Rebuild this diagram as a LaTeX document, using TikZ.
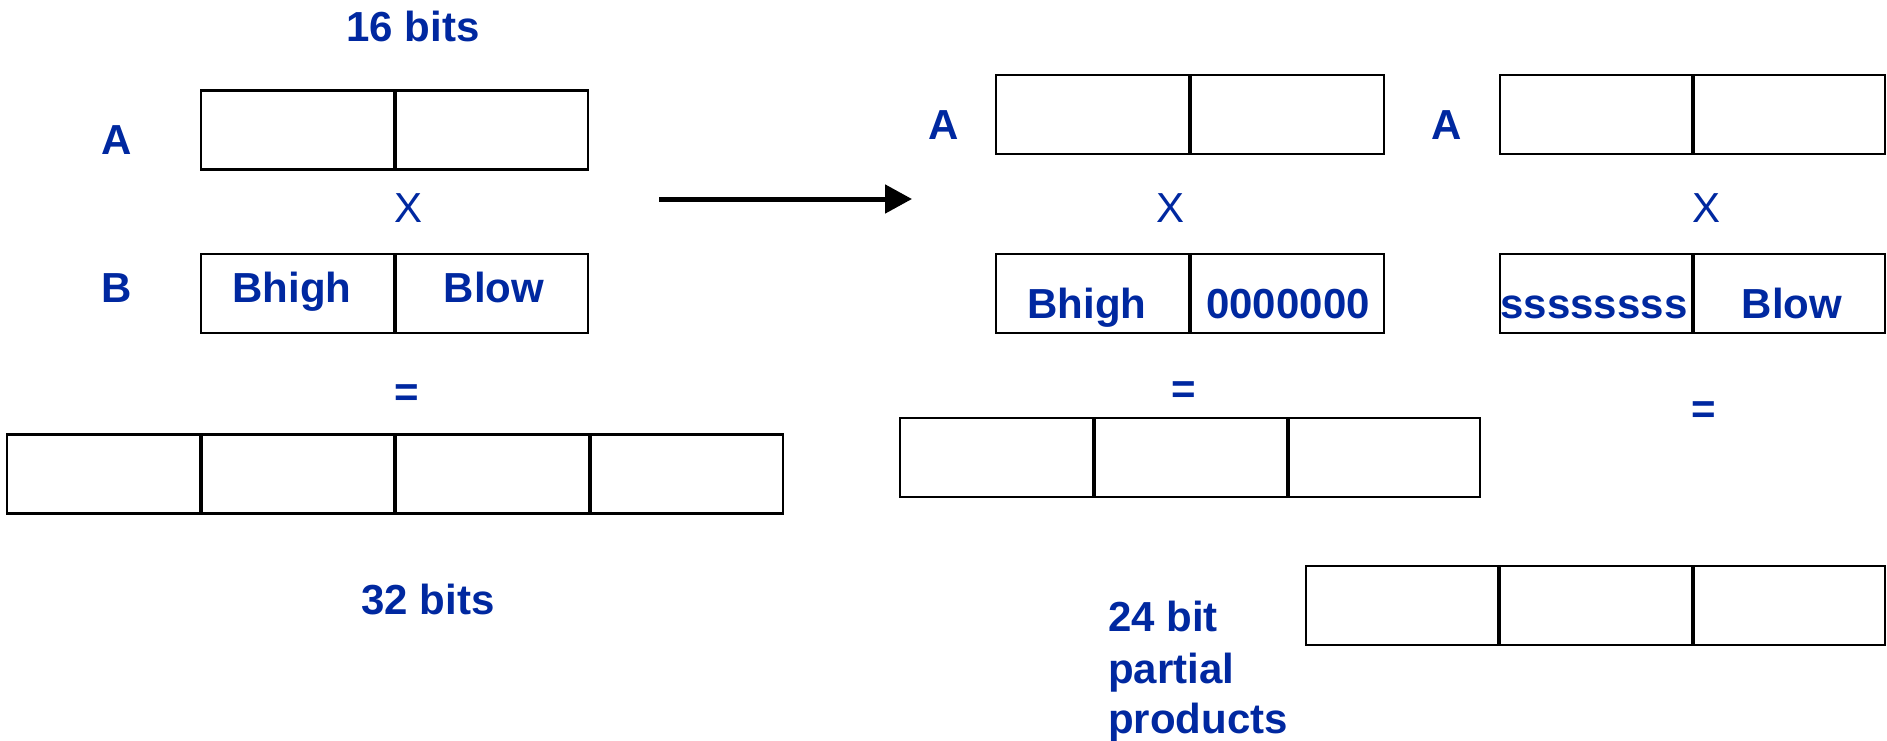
\documentclass[tikz,border=0pt]{standalone}
\usepackage{fontspec}
\setmainfont{Liberation Sans}
\usetikzlibrary{arrows.meta}
\definecolor{lblue}{RGB}{0,40,160}
\begin{document}
\begin{tikzpicture}[x=1pt,y=-1pt,
  cell/.style={draw=black, line width=2.2pt, inner sep=0pt, outer sep=0pt, minimum height=79pt},
  divider/.style={draw=black, line width=4pt},
  lbl/.style={text=lblue, inner sep=0pt, font=\fontsize{42}{50}\selectfont\bfseries},
  op/.style={text=lblue, inner sep=0pt, font=\fontsize{42}{50}\selectfont},
  eq/.style={text=lblue, inner sep=0pt, font=\fontsize{42}{50}\selectfont\bfseries}]
\useasboundingbox (0,0) rectangle (1887,740);
% ---------------- left: 16 x 16 ----------------
\node[lbl, anchor=base] (t16) at (413,41) {16 bits};
\node[lbl, anchor=base] (lA) at (117,154) {A};
\node[cell, minimum width=194pt] (la1) at (298,130) {};
\node[cell, minimum width=193pt] (la2) at (491.5,130) {};
\draw[divider] (la1.north east) -- (la1.south east);
\node[op, anchor=base] (lx) at (409,222) {X};
\node[lbl, anchor=base] (lB) at (117,302) {B};
\node[cell, minimum width=194pt] (lb1) at (298,293.5) {};
\node[cell, minimum width=193pt] (lb2) at (491.5,293.5) {};
\draw[divider] (lb1.north east) -- (lb1.south east);
\node[lbl, anchor=base] (lbh) at (292,302) {Bhigh};
\node[lbl, anchor=base] (lbl) at (494,302) {Blow};
\node[eq] (leq) at (407,396) {=};
\node[cell, minimum width=194pt] (lp1) at (104,474) {};
\node[cell, minimum width=194pt] (lp2) at (298,474) {};
\node[cell, minimum width=195pt] (lp3) at (492.5,474) {};
\node[cell, minimum width=193pt] (lp4) at (686.5,474) {};
\draw[divider] (lp1.north east) -- (lp1.south east);
\draw[divider] (lp2.north east) -- (lp2.south east);
\draw[divider] (lp3.north east) -- (lp3.south east);
\node[lbl, anchor=base] (t32) at (428,614) {32 bits};
% ---------------- arrow ----------------
\coordinate (arS) at (659,199);
\coordinate (arE) at (912,199);
\draw[line width=5pt, -{Triangle[length=27pt,width=28pt]}] (arS) -- (arE);
% ---------------- middle: A x (Bhigh,0) ----------------
\node[lbl, anchor=base] (mA) at (944,139) {A};
\node[cell, minimum width=194pt] (ma1) at (1093,114.5) {};
\node[cell, minimum width=194pt] (ma2) at (1287,114.5) {};
\draw[divider] (ma1.north east) -- (ma1.south east);
\node[op, anchor=base] (mx) at (1170,222) {X};
\node[cell, minimum width=194pt] (mb1) at (1093,293.5) {};
\node[cell, minimum width=194pt] (mb2) at (1287,293.5) {};
\draw[divider] (mb1.north east) -- (mb1.south east);
\node[lbl, anchor=base] (mbh) at (1087,318) {Bhigh};
\node[lbl, anchor=base] (mbz) at (1288,318) {0000000};
\node[eq] (meq) at (1184,393) {=};
\node[cell, minimum width=194pt] (mp1) at (997,457.5) {};
\node[cell, minimum width=194pt] (mp2) at (1191,457.5) {};
\node[cell, minimum width=192pt] (mp3) at (1384,457.5) {};
\draw[divider] (mp1.north east) -- (mp1.south east);
\draw[divider] (mp2.north east) -- (mp2.south east);
% ---------------- right: A x (s,Blow) ----------------
\node[lbl, anchor=base] (rA) at (1447,139) {A};
\node[cell, minimum width=193pt] (ra1) at (1596.5,114.5) {};
\node[cell, minimum width=192pt] (ra2) at (1789,114.5) {};
\draw[divider] (ra1.north east) -- (ra1.south east);
\node[op, anchor=base] (rx) at (1706,222) {X};
\node[cell, minimum width=193pt] (rb1) at (1596.5,293.5) {};
\node[cell, minimum width=192pt] (rb2) at (1789,293.5) {};
\draw[divider] (rb1.north east) -- (rb1.south east);
\node[lbl, anchor=base] (rbs) at (1594,318) {ssssssss};
\node[lbl, anchor=base] (rbl) at (1792,318) {Blow};
\node[eq] (req) at (1704,413) {=};
\node[cell, minimum width=193pt] (rp1) at (1402.5,605.5) {};
\node[cell, minimum width=194pt] (rp2) at (1596,605.5) {};
\node[cell, minimum width=192pt] (rp3) at (1789,605.5) {};
\draw[divider] (rp1.north east) -- (rp1.south east);
\draw[divider] (rp2.north east) -- (rp2.south east);
\node[lbl, anchor=base west] (pp1) at (1108,631) {24 bit};
\node[lbl, anchor=base west] (pp2) at (1108,683) {partial};
\node[lbl, anchor=base west] (pp3) at (1108,733) {products};
\end{tikzpicture}
\end{document}
